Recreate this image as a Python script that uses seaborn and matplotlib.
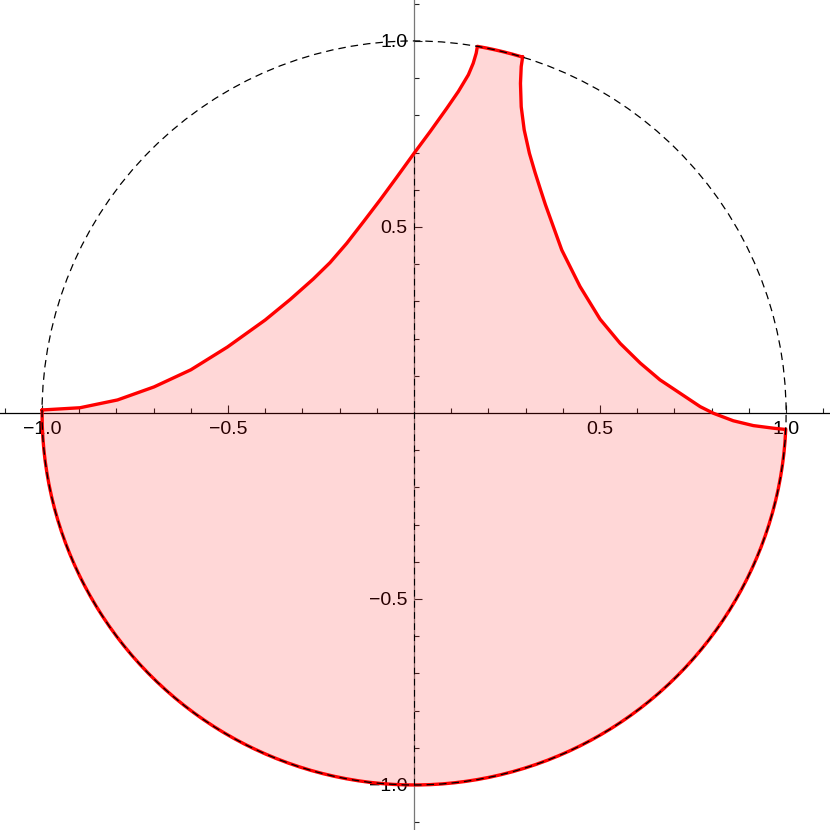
import numpy as np
import matplotlib
matplotlib.use("Agg")
import matplotlib.pyplot as plt
import matplotlib.path as mpath
from matplotlib.patches import Circle
from matplotlib.ticker import FixedLocator
import seaborn as sns

# left boundary: from (-1, 0) up to the unit circle
left_x = [-1.0, -0.898, -0.797, -0.699, -0.600, -0.502, -0.400, -0.333, -0.271,
          -0.226, -0.181, -0.136, -0.091, -0.047, 0.0, 0.043, 0.088, 0.119,
          0.146, 0.159, 0.167, 0.170]
left_y = [0.008, 0.014, 0.035, 0.070, 0.116, 0.177, 0.250, 0.305, 0.360,
          0.404, 0.456, 0.514, 0.573, 0.633, 0.698, 0.756, 0.819, 0.864,
          0.909, 0.940, 0.967, 0.985]

# right boundary: from the circle down to just under (1, 0)
right_x = [0.292, 0.288, 0.286, 0.288, 0.296, 0.310, 0.325, 0.339, 0.353, 0.397,
           0.446, 0.500, 0.554, 0.608, 0.661, 0.715, 0.769, 0.805, 0.858, 0.912,
           0.966, 0.995]
right_y = [0.958, 0.931, 0.886, 0.823, 0.761, 0.698, 0.647, 0.603, 0.560, 0.438,
           0.340, 0.252, 0.187, 0.134, 0.089, 0.053, 0.017, -0.001, -0.021, -0.034,
           -0.041, -0.044]

# pieces of the unit circle on the boundary (degrees)
top_arc = [73.0, 80.2]
bottom_arc = [180.0, 357.5]

# dashed seam along x = 0
seam_x = [0.0, 0.0]
seam_y = [-1.0, 0.698]

major_ticks = [-1.0, -0.5, 0.5, 1.0]
major_labels = ["\u22121.0", "\u22120.5", "0.5", "1.0"]
minor_ticks = [-1.1, -0.9, -0.8, -0.7, -0.6, -0.4, -0.3, -0.2, -0.1,
               0.1, 0.2, 0.3, 0.4, 0.6, 0.7, 0.8, 0.9, 1.1]

sns.set_style("white")
plt.rcParams['font.family'] = ['Liberation Sans', 'DejaVu Sans']


def arc_points(a1, a2):
    # sample the bezier pieces matplotlib uses for a unit-circle arc
    t = np.linspace(0, 1, 25)
    pts = [seg(t) for seg, code in mpath.Path.arc(a1, a2).iter_bezier()]
    return np.vstack(pts)


top = arc_points(*top_arc)[::-1]
bottom = arc_points(*bottom_arc)[::-1]

bx = np.concatenate([left_x, top[:, 0], right_x, bottom[:, 0], left_x[:1]])
by = np.concatenate([left_y, top[:, 1], right_y, bottom[:, 1], left_y[:1]])

fig = plt.figure(figsize=(8.3, 8.3), dpi=100)
ax = fig.add_axes([0, 0, 1, 1])

ax.fill(bx, by, color='red', alpha=0.155, lw=0, zorder=3)
sns.lineplot(x=bx, y=by, sort=False, estimator=None, color='red', lw=2.4, ax=ax, zorder=4)
sns.lineplot(x=seam_x, y=seam_y, sort=False, estimator=None, color='black', lw=0.8,
             ax=ax, zorder=5, linestyle=(0, (6, 4)))
ax.add_patch(Circle((0, 0), 1, fill=False, color='black', lw=0.9, ls=(0, (6, 4)), zorder=5))

ax.set_xlim(-1.113, 1.118)
ax.set_ylim(-1.121, 1.110)

for s in ['top', 'right']:
    ax.spines[s].set_visible(False)
ax.spines['left'].set_position(('data', 0))
ax.spines['bottom'].set_position(('data', 0))
ax.spines['bottom'].set_color('black')
ax.spines['left'].set_color('#777777')
ax.spines['bottom'].set_linewidth(0.9)
ax.spines['left'].set_linewidth(0.9)

ax.set_xticks(major_ticks, labels=major_labels)
ax.set_yticks(major_ticks, labels=major_labels)
ax.xaxis.set_minor_locator(FixedLocator(minor_ticks))
ax.yaxis.set_minor_locator(FixedLocator(minor_ticks))
ax.tick_params(which='both', bottom=True, left=True, direction='in', width=0.8, color='#222222')
ax.tick_params(which='major', length=5.8, labelsize=14, labelcolor='black')
ax.tick_params(which='minor', length=3.6)
ax.tick_params(axis='x', which='major', pad=6)
ax.tick_params(axis='y', which='major', pad=5)
ax.set_xlabel('')
ax.set_ylabel('')
ax.grid(False)

fig.savefig('out.png', dpi=100)
